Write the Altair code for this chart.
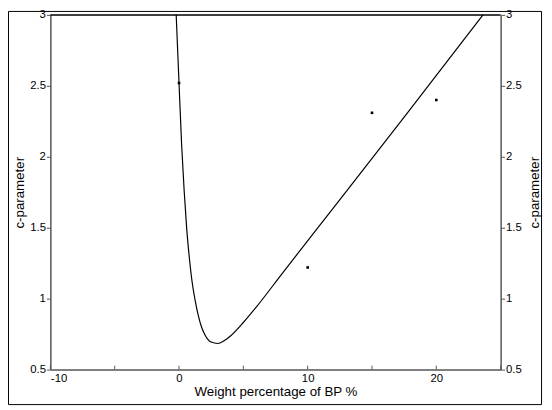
import altair as alt
import pandas as pd

# fitted curve
curve_x = [-0.22, 0.0, 0.2, 0.4, 0.6, 0.8, 1.0, 1.25, 1.5, 1.75, 2.0, 2.5, 3.0, 3.5, 4.0, 5.0, 6.0, 8.0, 10.6, 12.4, 17.5, 23.62]
curve_y = [3.0, 2.52, 2.09, 1.76, 1.49, 1.29, 1.13, 0.99, 0.88, 0.80, 0.748, 0.694, 0.684, 0.703, 0.737, 0.832, 0.94, 1.175, 1.478, 1.686, 2.28, 3.0]

# measured points
pts_x = [0, 10, 15, 20]
pts_y = [2.52, 1.22, 2.31, 2.40]

x_tick_values = [-10, -5, 0, 5, 10, 15, 20, 25]
x_label_values = [-10, 0, 10, 20]
y_tick_values = [0.5, 1, 1.5, 2, 2.5, 3]

W, H = 457, 360
FONT = "Liberation Sans"

xscale = alt.Scale(domain=[-10, 25], nice=False, zero=False)
yscale = alt.Scale(domain=[0.5, 3], nice=False, zero=False)

curve_df = pd.DataFrame({"x": curve_x, "y": curve_y})
pts_df = pd.DataFrame({"x": pts_x, "y": pts_y})
ticks_df = pd.DataFrame({"x": x_tick_values})
one_df = pd.DataFrame({"a": [0]})

common = dict(labelFont=FONT, titleFont=FONT, labelFontSize=11.5, titleFontSize=13.5,
              labelColor="#000", titleColor="#000", titleFontWeight="normal",
              domainColor="#555", domainWidth=1.5, grid=False)

xaxis = alt.Axis(values=x_label_values, ticks=False, title="Weight percentage of BP %",
                 labelPadding=3, titlePadding=1, labelExpr="datum.value + ''", **common)
yaxis_left = alt.Axis(values=y_tick_values, orient="left", title="c-parameter", format="~g",
                      tickSize=4, tickColor="#555", labelPadding=1, titlePadding=3, **common)
yaxis_right = alt.Axis(values=y_tick_values, orient="right", title="c-parameter", format="~g",
                       tickSize=4, tickColor="#555", labelPadding=1, titlePadding=20,
                       titleAngle=270, **common)

curve = alt.Chart(curve_df).mark_line(color="black", strokeWidth=1.2, interpolate="monotone").encode(
    x=alt.X("x:Q", scale=xscale, axis=xaxis),
    y=alt.Y("y:Q", scale=yscale, axis=yaxis_left),
)

points = alt.Chart(pts_df).mark_square(size=7, color="black", opacity=1).encode(
    x=alt.X("x:Q", scale=xscale, axis=xaxis),
    y=alt.Y("y:Q", scale=yscale, axis=yaxis_right),
)

inner_ticks = alt.Chart(ticks_df).mark_rule(color="#555", strokeWidth=1).encode(
    x=alt.X("x:Q", scale=xscale, axis=xaxis),
    y=alt.value(H),
    y2=alt.value(H - 4),
)

top_line = alt.Chart(one_df).mark_rule(color="black", strokeWidth=1.5).encode(
    x=alt.value(0), x2=alt.value(W), y=alt.value(0)
)

frame = alt.Chart(one_df).mark_rect(filled=False, stroke="black", strokeWidth=1, clip=False).encode(
    x=alt.value(-42.5), x2=alt.value(498.5), y=alt.value(-3.5), y2=alt.value(395.5)
)

chart = alt.layer(frame, top_line, inner_ticks, curve, points).resolve_scale(
    y="independent"
).properties(
    width=W, height=H,
    autosize=alt.AutoSizeParams(type="none"),
    padding={"left": 43, "top": 4, "right": 44, "bottom": 38},
    background="white",
).configure_view(stroke=None)

chart.save("out.html", embed_options={"renderer": "svg", "actions": False})
